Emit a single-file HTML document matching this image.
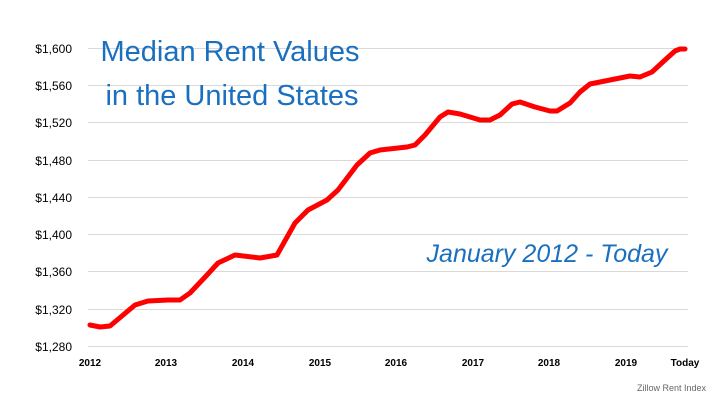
<!DOCTYPE html>
<html><head><meta charset="utf-8"><style>
body{margin:0;background:#fff;}
svg{display:block;}
</style></head><body>
<svg width="720" height="405" viewBox="0 0 720 405" xmlns="http://www.w3.org/2000/svg">
<g stroke="#d9d9d9" stroke-width="1">
<line x1="88" y1="48.5" x2="688" y2="48.5"/>
<line x1="88" y1="85.5" x2="688" y2="85.5"/>
<line x1="88" y1="122.5" x2="688" y2="122.5"/>
<line x1="88" y1="160.5" x2="688" y2="160.5"/>
<line x1="88" y1="197.5" x2="688" y2="197.5"/>
<line x1="88" y1="234.5" x2="688" y2="234.5"/>
<line x1="88" y1="271.5" x2="688" y2="271.5"/>
<line x1="88" y1="309.5" x2="688" y2="309.5"/>
<line x1="88" y1="346.5" x2="688" y2="346.5"/>
</g>
<g font-family="Liberation Sans, sans-serif" font-size="12" fill="#000" text-anchor="end">
<text x="72" y="53">$1,600</text>
<text x="72" y="90">$1,560</text>
<text x="72" y="127">$1,520</text>
<text x="72" y="165">$1,480</text>
<text x="72" y="202">$1,440</text>
<text x="72" y="239">$1,400</text>
<text x="72" y="276">$1,360</text>
<text x="72" y="314">$1,320</text>
<text x="72" y="351">$1,280</text>
</g>
<g font-family="Liberation Sans, sans-serif" font-size="10" font-weight="bold" fill="#000" text-anchor="middle">
<text x="90" y="366">2012</text>
<text x="166" y="366">2013</text>
<text x="243" y="366">2014</text>
<text x="320" y="366">2015</text>
<text x="396" y="366">2016</text>
<text x="473" y="366">2017</text>
<text x="549" y="366">2018</text>
<text x="626" y="366">2019</text>
<text x="685" y="366">Today</text>
</g>
<text x="706" y="391" font-family="Liberation Sans, sans-serif" font-size="9" fill="#666" text-anchor="end">Zillow Rent Index</text>
<polyline fill="none" stroke="#f00" stroke-width="5" stroke-linejoin="round" stroke-linecap="round"
points="90,325 100,327 110,326 135,305 148,301 168,300 180,300 190,293 207,275 218,263 235,255 260,258 277,255 295,223 308,210 327,200 338,190 357,165 370,153 380,150 407,147 415,145 425,135 440,117 448,112 460,114 480,120 490,120 500,115 512,104 520,102 535,107 550,111 557,111 570,103 580,92 590,84 600,82 615,79 630,76 640,77 652,72 665,60 675,51 680,49 685,49"/>
<g font-family="Liberation Sans, sans-serif" fill="#1a6fbf" font-size="29">
<text x="230" y="61" text-anchor="middle">Median Rent Values</text>
<text x="232" y="105" text-anchor="middle">in the United States</text>
</g>
<text x="547" y="262" font-family="Liberation Sans, sans-serif" font-style="italic" font-size="25" fill="#1a6fbf" text-anchor="middle">January 2012 - Today</text>
</svg>
</body></html>
